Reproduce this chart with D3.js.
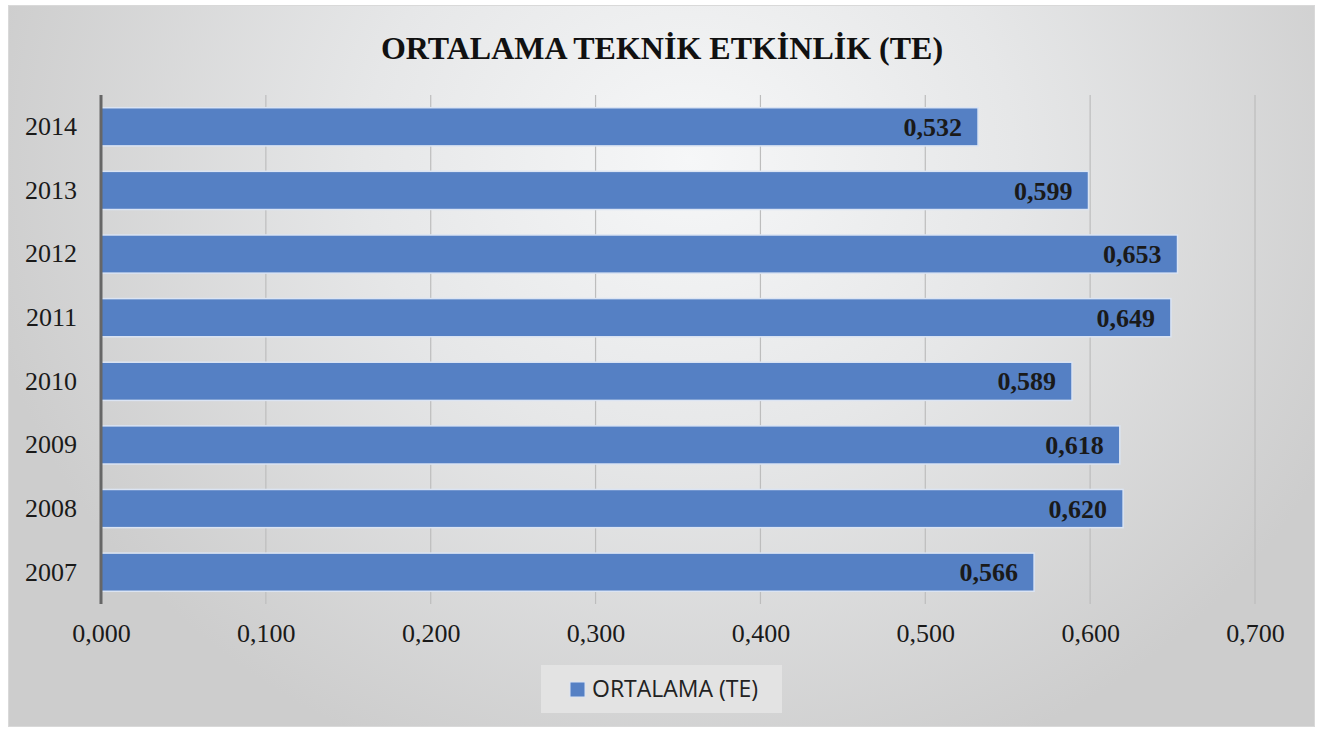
<!DOCTYPE html>
<html>
<head>
<meta charset="utf-8">
<script src="https://cdn.jsdelivr.net/npm/d3@7"></script>
<style>
  body { margin: 0; background: #fff; }
</style>
</head>
<body>
<div id="container"></div>
<script>
/* CONSTANTS AND GLOBALS */
const width = 1323;
const height = 729;

/* DATA */
const years = ["2014", "2013", "2012", "2011", "2010", "2009", "2008", "2007"];
const values = [0.532, 0.599, 0.653, 0.649, 0.589, 0.618, 0.620, 0.566];
const ticks = [0, 0.1, 0.2, 0.3, 0.4, 0.5, 0.6, 0.7];
const title = "ORTALAMA TEKNİK ETKİNLİK (TE)";
const seriesName = "ORTALAMA (TE)";

const data = years.map((y, i) => ({ year: y, value: values[i] }));
const fmt = v => d3.format(".3f")(v).replace(".", ",");

const svg = d3.select("#container")
  .append("svg")
  .attr("width", width)
  .attr("height", height);

/* BACKGROUND */
const defs = svg.append("defs");
const grad = defs.append("radialGradient")
  .attr("id", "bg")
  .attr("gradientUnits", "userSpaceOnUse")
  .attr("cx", 690).attr("cy", 160).attr("r", 720)
  .attr("gradientTransform", "translate(690,160) scale(1,0.9) translate(-690,-160)");
grad.append("stop").attr("offset", "0%").attr("stop-color", "#f6f7f8");
grad.append("stop").attr("offset", "45%").attr("stop-color", "#e6e7e8");
grad.append("stop").attr("offset", "100%").attr("stop-color", "#cdcdcd");

svg.append("rect")
  .attr("x", 8.5).attr("y", 5.5)
  .attr("width", 1306).attr("height", 721)
  .attr("fill", "url(#bg)")
  .attr("stroke", "#d9d9d9")
  .attr("stroke-width", 1);

/* SCALES */
const xScale = d3.scaleLinear()
  .domain([0, 0.7])
  .range([101, 1255]);

const yScale = d3.scaleBand()
  .domain(years)
  .range([95, 604])
  .paddingInner(0.4)
  .paddingOuter(0.2);

/* GRIDLINES */
svg.selectAll(".grid")
  .data(ticks.slice(1))
  .join("line")
  .attr("class", "grid")
  .attr("x1", d => xScale(d)).attr("x2", d => xScale(d))
  .attr("y1", 95).attr("y2", 604)
  .attr("stroke", "#bdbdbd")
  .attr("stroke-width", 1.2);

/* BARS */
svg.selectAll(".bar")
  .data(data)
  .join("rect")
  .attr("class", "bar")
  .attr("x", xScale(0))
  .attr("y", d => yScale(d.year))
  .attr("width", d => xScale(d.value) - xScale(0))
  .attr("height", yScale.bandwidth())
  .attr("fill", "#5580c4")
  .attr("stroke", "#dbe4f3")
  .attr("stroke-width", 1.5);

/* VALUE LABELS */
svg.selectAll(".lbl")
  .data(data)
  .join("text")
  .attr("class", "lbl")
  .attr("x", d => xScale(d.value) - 16)
  .attr("y", d => yScale(d.year) + yScale.bandwidth() / 2)
  .attr("dy", "0.35em")
  .attr("text-anchor", "end")
  .attr("font-family", "Liberation Serif, Times New Roman, serif")
  .attr("font-weight", "bold")
  .attr("font-size", 26)
  .attr("fill", "#1a1a1a")
  .text(d => fmt(d.value));

/* AXES */
const yAxis = svg.append("g")
  .attr("transform", `translate(${xScale(0)},0)`)
  .call(d3.axisLeft(yScale).tickSize(0).tickPadding(24));
yAxis.select(".domain").remove();
yAxis.append("line")
  .attr("x1", 0).attr("x2", 0)
  .attr("y1", 95).attr("y2", 604)
  .attr("stroke", "#666")
  .attr("stroke-width", 3);
yAxis.selectAll("text")
  .attr("font-family", "Liberation Serif, Times New Roman, serif")
  .attr("font-size", 26)
  .attr("fill", "#1a1a1a");

const xAxis = svg.append("g")
  .attr("transform", "translate(0,604)")
  .call(d3.axisBottom(xScale).tickValues(ticks).tickFormat(fmt).tickSize(0).tickPadding(20));
xAxis.select(".domain").remove();
xAxis.selectAll("text")
  .attr("font-family", "Liberation Serif, Times New Roman, serif")
  .attr("font-size", 26)
  .attr("fill", "#1a1a1a");

/* TITLE */
svg.append("text")
  .attr("x", 662)
  .attr("y", 59)
  .attr("text-anchor", "middle")
  .attr("font-family", "Liberation Serif, Times New Roman, serif")
  .attr("font-weight", "bold")
  .attr("font-size", 32)
  .attr("fill", "#111")
  .text(title);

/* LEGEND */
const legend = svg.append("g");
legend.append("rect")
  .attr("x", 541).attr("y", 665)
  .attr("width", 241).attr("height", 48)
  .attr("fill", "#e3e3e3");
legend.append("rect")
  .attr("x", 570).attr("y", 682)
  .attr("width", 15).attr("height", 15)
  .attr("fill", "#5580c4")
  .attr("stroke", "#dbe4f3")
  .attr("stroke-width", 1);
legend.append("text")
  .attr("x", 592).attr("y", 689)
  .attr("dy", "0.36em")
  .attr("font-family", "Open Sans, Noto Sans, sans-serif")
  .attr("font-size", 23)
  .attr("fill", "#222")
  .text(seriesName);
</script>
</body>
</html>
